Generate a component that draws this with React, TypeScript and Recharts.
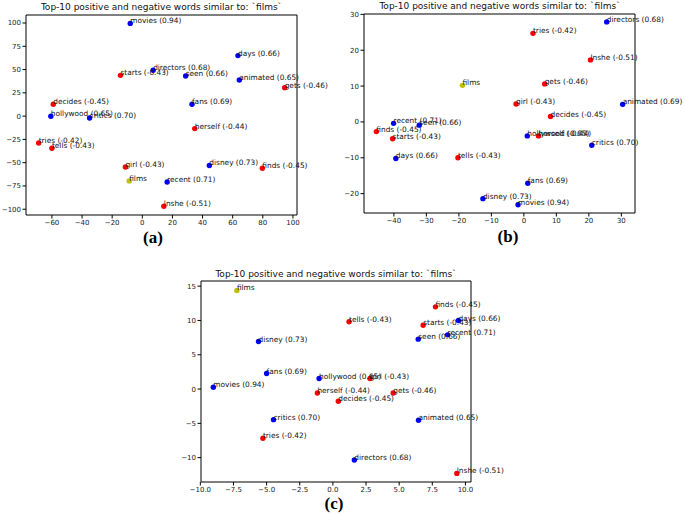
import React from "react";
import { ReferenceArea, Scatter, ScatterChart, XAxis, YAxis } from "recharts";

const words = [
  "movies", "disney", "recent", "critics", "fans", "directors", "days", "seen", "hollywood", "animated",
  "lnshe", "gets", "decides", "finds", "herself", "girl", "starts", "tells", "tries", "films",
];
const scoresA = [0.94, 0.73, 0.71, 0.7, 0.69, 0.68, 0.66, 0.66, 0.65, 0.65, -0.51, -0.46, -0.45, -0.45, -0.44, -0.43, -0.43, -0.43, -0.42, null];
const scoresB = [0.94, 0.73, 0.71, 0.7, 0.69, 0.68, 0.66, 0.66, 0.65, 0.69, -0.51, -0.46, -0.45, -0.45, -0.44, -0.43, -0.43, -0.43, -0.42, null];

const xA = [-8, 44.5, 16.5, -35, 33, 7.2, 63.5, 28.8, -60.7, 64.4, 14.3, 94.5, -59.1, 79.7, 34.8, -11.2, -14.5, -60, -68.8, -8.7];
const yA = [99.6, -53, -70.7, -2, 12.7, 49.2, 65, 43.1, -0.2, 38.8, -96.8, 30.6, 12.7, -56, -13.4, -54.6, 43.8, -34.5, -28.8, -69.6];

const xB = [-1.8, -12.6, -40.1, 20.9, 1.2, 25.5, -39.4, -32.2, 1.05, 30.4, 20.5, 6.4, 8.2, -45.4, 4.5, -2.4, -40.4, -20.3, 2.8, -18.9];
const yB = [-23.1, -21.4, -0.4, -6.5, -17.1, 27.9, -10.2, -0.9, -3.9, 4.9, 17.3, 10.6, 1.5, -2.7, -3.9, 5.0, -4.7, -10.0, 24.7, 10.2];

const xC = [-9.02, -5.61, 8.65, -4.48, -5.0, 1.62, 9.47, 6.44, -1.04, 6.46, 9.35, 4.55, 0.41, 7.74, -1.17, 2.8, 6.81, 1.22, -5.28, -7.24];
const yC = [0.26, 6.93, 7.9, -4.46, 2.26, -10.34, 9.99, 7.27, 1.53, -4.55, -12.3, -0.58, -1.78, 11.98, -0.58, 1.53, 9.31, 9.8, -7.18, 14.37];

const xTicksA = [-60, -40, -20, 0, 20, 40, 60, 80, 100];
const yTicksA = [-100, -75, -50, -25, 0, 25, 50, 75, 100];
const xTicksB = [-40, -30, -20, -10, 0, 10, 20, 30];
const yTicksB = [-20, -10, 0, 10, 20, 30];
const xTicksC = [-10, -7.5, -5, -2.5, 0, 2.5, 5, 7.5, 10];
const yTicksC = [-10, -5, 0, 5, 10, 15];

const title = "Top-10 positive and negative words similar to: `films`";

type Row = { x: number; y: number; word: string; score: number | null };

function rows(xs: number[], ys: number[], scores: (number | null)[]): Row[] {
  return words.map((w, i) => ({ x: xs[i], y: ys[i], word: w, score: scores[i] }));
}

const minus = (s: string) => s.replace("-", "\u2212");
const fmtInt = (v: number) => minus(String(v));
const fmtOne = (v: number) => minus(v.toFixed(1));

function colorOf(score: number | null) {
  if (score === null) return "#bfbf00";
  return score > 0 ? "#0000ff" : "#ff0000";
}

const Dot = (props: any) => {
  const { cx, cy, payload } = props;
  return <circle cx={cx} cy={cy} r={2.7} fill={colorOf(payload.score)} />;
};

const Word = (props: any) => {
  const { cx, cy, payload } = props;
  const text = payload.score === null ? payload.word : `${payload.word} (${payload.score.toFixed(2)})`;
  return (
    <text x={cx} y={cy} fontSize={7.4} fontFamily="DejaVu Sans" fill="#111">
      {text}
    </text>
  );
};

const tickStyle = { fontSize: 7, fontFamily: "DejaVu Sans", fill: "#222" };

function Panel(p: {
  left: number; top: number; width: number; height: number;
  margin: { top: number; right: number; bottom: number; left: number };
  yWidth: number; xDomain: [number, number]; yDomain: [number, number];
  xTicks: number[]; yTicks: number[]; xFmt: (v: number) => string; data: Row[];
}) {
  return (
    <div style={{ position: "absolute", left: p.left, top: p.top }}>
      <ScatterChart width={p.width} height={p.height} margin={p.margin} style={{ overflow: "visible" }}>
        <XAxis
          dataKey="x" type="number" domain={p.xDomain} ticks={p.xTicks} interval={0}
          tickFormatter={p.xFmt} tick={tickStyle} tickSize={3.5} tickMargin={1.5}
          axisLine={false} tickLine={{ stroke: "#000" }} height={20}
        />
        <YAxis
          dataKey="y" type="number" domain={p.yDomain} ticks={p.yTicks} interval={0}
          tickFormatter={fmtInt} tick={tickStyle} tickSize={3.5} tickMargin={1.5}
          axisLine={false} tickLine={{ stroke: "#000" }} width={p.yWidth}
        />
        <ReferenceArea
          x1={p.xDomain[0]} x2={p.xDomain[1]} y1={p.yDomain[0]} y2={p.yDomain[1]}
          fill="none" stroke="#000" strokeWidth={1} fillOpacity={0} strokeOpacity={1}
        />
        <Scatter data={p.data} shape={Dot} isAnimationActive={false} />
        <Scatter data={p.data} shape={Word} isAnimationActive={false} />
      </ScatterChart>
    </div>
  );
}

export default function App() {
  return (
    <div style={{ position: "absolute", left: 0, top: 0, width: 685, height: 514, background: "#fff", overflow: "hidden" }}>
      <Panel
        left={0} top={0} width={340} height={260}
        margin={{ top: 15, right: 43, bottom: 25, left: 0 }} yWidth={26}
        xDomain={[-77.2, 102.7]} yDomain={[-106.2, 108.6]}
        xTicks={xTicksA} yTicks={yTicksA} xFmt={fmtInt} data={rows(xA, yA, scoresA)}
      />
      <Panel
        left={340} top={0} width={345} height={260}
        margin={{ top: 14, right: 50, bottom: 27, left: 0 }} yWidth={24}
        xDomain={[-49.2, 34.2]} yDomain={[-25.4, 30.1]}
        xTicks={xTicksB} yTicks={yTicksB} xFmt={fmtInt} data={rows(xB, yB, scoresB)}
      />
      <Panel
        left={150} top={270} width={400} height={244}
        margin={{ top: 11, right: 79, bottom: 12, left: 20 }} yWidth={31}
        xDomain={[-9.95, 10.42]} yDomain={[-13.55, 15.75]}
        xTicks={xTicksC} yTicks={yTicksC} xFmt={fmtOne} data={rows(xC, yC, scoresA)}
      />
      <svg width={685} height={514} style={{ position: "absolute", left: 0, top: 0, pointerEvents: "none" }}>
        <g fontFamily="DejaVu Sans" fontSize={9} fill="#111" textAnchor="middle">
          <text x={161.5} y={10}>{title}</text>
          <text x={500} y={9}>{title}</text>
          <text x={336} y={277}>{title}</text>
        </g>
        <g fontFamily="Liberation Serif" fontWeight="bold" fontSize={17} fill="#000" textAnchor="middle">
          <text x={153} y={243}>(a)</text>
          <text x={508} y={242}>(b)</text>
          <text x={334} y={509}>(c)</text>
        </g>
      </svg>
    </div>
  );
}
